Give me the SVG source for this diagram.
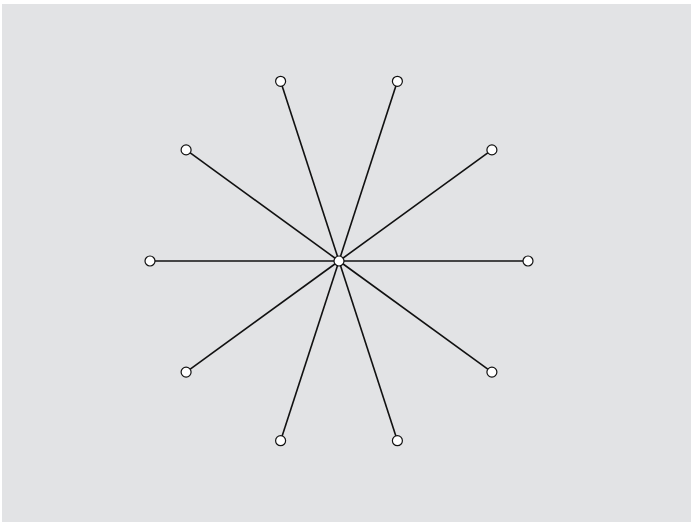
<svg xmlns="http://www.w3.org/2000/svg" width="691" height="522" viewBox="0 0 691 522">
<style>
.n{fill:#ffffff;stroke:#111111;stroke-width:1.2}
.e{stroke:#111111;stroke-width:1.6;fill:none}
</style>
<rect x="0" y="0" width="691" height="522" fill="#ffffff"/>
<rect x="2" y="4" width="689" height="518" fill="#e2e3e5"/>
<g id="connectors">
<line class="e" x1="339" y1="261" x2="280.6" y2="81.3"/>
<line class="e" x1="339" y1="261" x2="397.4" y2="81.3"/>
<line class="e" x1="339" y1="261" x2="491.9" y2="149.9"/>
<line class="e" x1="339" y1="261" x2="528" y2="261"/>
<line class="e" x1="339" y1="261" x2="491.9" y2="372.1"/>
<line class="e" x1="339" y1="261" x2="397.4" y2="440.7"/>
<line class="e" x1="339" y1="261" x2="280.6" y2="440.7"/>
<line class="e" x1="339" y1="261" x2="186.1" y2="372.1"/>
<line class="e" x1="339" y1="261" x2="150" y2="261"/>
<line class="e" x1="339" y1="261" x2="186.1" y2="149.9"/>
</g>
<g id="n1"><circle class="n" cx="280.6" cy="81.3" r="5"/></g>
<g id="n2"><circle class="n" cx="397.4" cy="81.3" r="5"/></g>
<g id="n3"><circle class="n" cx="491.9" cy="149.9" r="5"/></g>
<g id="n4"><circle class="n" cx="528" cy="261" r="5"/></g>
<g id="n5"><circle class="n" cx="491.9" cy="372.1" r="5"/></g>
<g id="n6"><circle class="n" cx="397.4" cy="440.7" r="5"/></g>
<g id="n7"><circle class="n" cx="280.6" cy="440.7" r="5"/></g>
<g id="n8"><circle class="n" cx="186.1" cy="372.1" r="5"/></g>
<g id="n9"><circle class="n" cx="150" cy="261" r="5"/></g>
<g id="n10"><circle class="n" cx="186.1" cy="149.9" r="5"/></g>
<g id="center"><circle class="n" cx="339" cy="261" r="5"/></g>
</svg>
